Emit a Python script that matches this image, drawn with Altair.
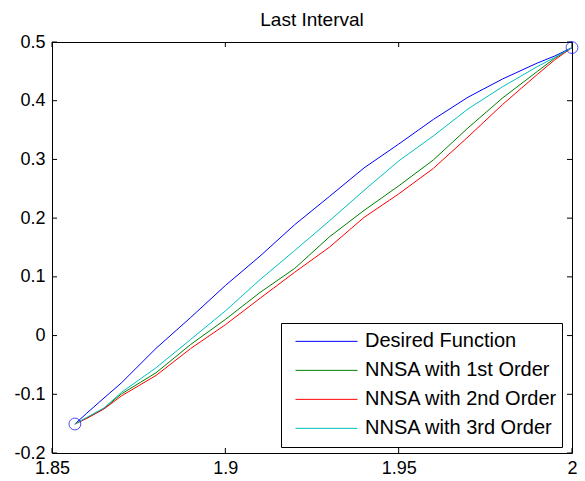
import altair as alt
import pandas as pd

# ---- data ----
x_vals = [1.8566, 1.86, 1.865, 1.87, 1.88, 1.89, 1.90, 1.91, 1.92, 1.93,
          1.94, 1.95, 1.96, 1.97, 1.98, 1.99, 1.995, 2.0]
desired = [-0.1506, -0.1324, -0.1063, -0.0807, -0.0218, 0.0308, 0.0852, 0.1353, 0.1888, 0.2368,
           0.2855, 0.3261, 0.3681, 0.4060, 0.4371, 0.4642, 0.4761, 0.4905]
first_order = [-0.1506, -0.1404, -0.1242, -0.0995, -0.0634, -0.0152, 0.0274, 0.0734, 0.1143, 0.1680,
               0.2131, 0.2549, 0.2991, 0.3537, 0.4048, 0.4499, 0.4722, 0.4905]
second_order = [-0.1506, -0.1412, -0.1250, -0.1029, -0.0680, -0.0221, 0.0184, 0.0635, 0.1078, 0.1504,
                0.2012, 0.2412, 0.2847, 0.3383, 0.3937, 0.4448, 0.4695, 0.4905]
third_order = [-0.1506, -0.1395, -0.1233, -0.0969, -0.0549, -0.0066, 0.0419, 0.0952, 0.1448, 0.1952,
               0.2472, 0.2974, 0.3400, 0.3860, 0.4239, 0.4581, 0.4736, 0.4905]

series_names = ["Desired Function", "NNSA with 1st Order", "NNSA with 2nd Order", "NNSA with 3rd Order"]
series_colors = ["#0000FF", "#008000", "#FF0000", "#00BFBF"]
series_values = [desired, first_order, second_order, third_order]

marker_x = [1.8566, 2.0]
marker_y = [-0.1506, 0.4905]

x_ticks = [1.85, 1.9, 1.95, 2.0]
y_ticks = [-0.2, -0.1, 0.0, 0.1, 0.2, 0.3, 0.4, 0.5]

FONT = "Liberation Sans"
W, H = 520, 411

rows = []
for name, vals in zip(series_names, series_values):
    for i, (xv, yv) in enumerate(zip(x_vals, vals)):
        rows.append({"x": xv, "y": yv, "series": name, "i": i})
df = pd.DataFrame(rows)
markers = pd.DataFrame({"x": marker_x, "y": marker_y})
xt = pd.DataFrame({"t": x_ticks})
yt = pd.DataFrame({"t": y_ticks})

xscale = alt.Scale(domain=[1.85, 2.0], nice=False, zero=False)
yscale = alt.Scale(domain=[-0.2, 0.5], nice=False, zero=False)

x_axis = alt.Axis(values=x_ticks, format="~g", labelFont=FONT, labelFontSize=18, labelColor="black",
                  tickSize=0, domain=False, grid=False, labelPadding=6, title=None,
                  labelFlush=False, labelOverlap=False, labelBound=False)
y_axis = alt.Axis(values=y_ticks,
                  labelExpr="datum.value < 0 ? '-' + format(-datum.value, '~g') : format(datum.value, '~g')",
                  labelFont=FONT, labelFontSize=18, labelColor="black",
                  tickSize=0, domain=False, grid=False, labelPadding=7, title=None,
                  labelFlush=False, labelOverlap=False, labelBound=False)

lines = alt.Chart(df).mark_line(strokeWidth=1).encode(
    x=alt.X("x:Q", scale=xscale, axis=x_axis),
    y=alt.Y("y:Q", scale=yscale, axis=y_axis),
    color=alt.Color("series:N",
                    scale=alt.Scale(domain=series_names, range=series_colors),
                    sort=series_names,
                    legend=alt.Legend(title=None, orient="none", legendX=229, legendY=281,
                                      direction="vertical",
                                      symbolType="stroke", symbolSize=3844, symbolStrokeWidth=1,
                                      clipHeight=28.7, symbolOffset=10, labelOffset=7,
                                      labelLimit=0,
                                      labelFont=FONT, labelFontSize=20, labelColor="black",
                                      padding=4, rowPadding=0, strokeColor="black",
                                      fillColor="white", cornerRadius=0)),
    order="i:Q",
)

pts = alt.Chart(markers).mark_point(shape="circle", filled=False, size=140, strokeWidth=1,
                                    color="#0000FF").encode(
    x=alt.X("x:Q", scale=xscale), y=alt.Y("y:Q", scale=yscale))

tick_style = dict(color="black", strokeWidth=1)
bottom_ticks = alt.Chart(xt).mark_rule(**tick_style).encode(
    x=alt.X("t:Q", scale=xscale), y=alt.value(H), y2=alt.value(H - 5))
top_ticks = alt.Chart(xt).mark_rule(**tick_style).encode(
    x=alt.X("t:Q", scale=xscale), y=alt.value(0), y2=alt.value(5))
left_ticks = alt.Chart(yt).mark_rule(**tick_style).encode(
    y=alt.Y("t:Q", scale=yscale), x=alt.value(0), x2=alt.value(5))
right_ticks = alt.Chart(yt).mark_rule(**tick_style).encode(
    y=alt.Y("t:Q", scale=yscale), x=alt.value(W), x2=alt.value(W - 5))

chart = alt.layer(bottom_ticks, top_ticks, left_ticks, right_ticks, lines, pts).properties(
    width=W, height=H,
    title=alt.Title("Last Interval", font=FONT, fontSize=19, fontWeight="normal", color="black",
                    anchor="middle", offset=3),
    autosize="none",
    padding={"left": 52, "top": 42, "right": 13, "bottom": 28},
    background="white",
).configure_view(stroke="black", strokeWidth=1)

chart.save("out.html", embed_options={"renderer": "svg", "actions": False})
